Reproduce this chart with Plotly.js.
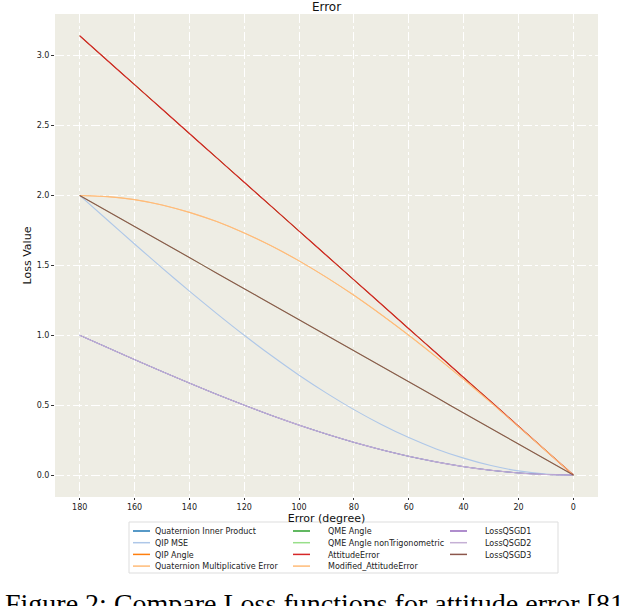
<!DOCTYPE html>
<html>
<head>
<meta charset="utf-8">
<script src="https://cdn.plot.ly/plotly-3.0.1.min.js"></script>
<style>html,body{margin:0;padding:0;background:#fff;}#chart{width:622px;height:606px;}</style>
</head>
<body>
<div id="chart"></div>
<script>
// Error angle in degrees
const errorDeg = [180,170,160,150,140,130,120,110,100,90,80,70,60,50,40,30,20,10,0];

// Series values
const quatInnerProduct = [1.000,0.913,0.826,0.741,0.658,0.577,0.500,0.426,0.357,0.293,0.234,0.181,0.134,0.094,0.060,0.034,0.015,0.004,0.000];
const qipMSE           = [2.000,1.826,1.653,1.482,1.316,1.155,1.000,0.853,0.714,0.586,0.468,0.362,0.268,0.187,0.121,0.068,0.030,0.008,0.000];
const qipAngle         = [3.142,2.967,2.793,2.618,2.443,2.269,2.094,1.920,1.745,1.571,1.396,1.222,1.047,0.873,0.698,0.524,0.349,0.175,0.000];
const quatMultError    = [2.000,1.992,1.970,1.932,1.879,1.813,1.732,1.638,1.532,1.414,1.286,1.147,1.000,0.845,0.684,0.518,0.347,0.174,0.000];
const qmeAngle         = [3.142,2.967,2.793,2.618,2.443,2.269,2.094,1.920,1.745,1.571,1.396,1.222,1.047,0.873,0.698,0.524,0.349,0.175,0.000];
const qmeAngleNonTrig  = [2.000,1.889,1.778,1.667,1.556,1.444,1.333,1.222,1.111,1.000,0.889,0.778,0.667,0.556,0.444,0.333,0.222,0.111,0.000];
const attitudeError    = [3.142,2.967,2.793,2.618,2.443,2.269,2.094,1.920,1.745,1.571,1.396,1.222,1.047,0.873,0.698,0.524,0.349,0.175,0.000];
const modAttitudeError = [2.000,1.992,1.970,1.932,1.879,1.813,1.732,1.638,1.532,1.414,1.286,1.147,1.000,0.845,0.684,0.518,0.347,0.174,0.000];
const lossQSGD1        = [1.000,0.913,0.826,0.741,0.658,0.577,0.500,0.426,0.357,0.293,0.234,0.181,0.134,0.094,0.060,0.034,0.015,0.004,0.000];
const lossQSGD2        = [1.000,0.913,0.826,0.741,0.658,0.577,0.500,0.426,0.357,0.293,0.234,0.181,0.134,0.094,0.060,0.034,0.015,0.004,0.000];
const lossQSGD3        = [2.000,1.889,1.778,1.667,1.556,1.444,1.333,1.222,1.111,1.000,0.889,0.778,0.667,0.556,0.444,0.333,0.222,0.111,0.000];

const seriesNames = ["Quaternion Inner Product","QIP MSE","QIP Angle","Quaternion Multiplicative Error",
  "QME Angle","QME Angle nonTrigonometric","AttitudeError","Modified_AttitudeError",
  "LossQSGD1","LossQSGD2","LossQSGD3"];
const seriesValues = [quatInnerProduct,qipMSE,qipAngle,quatMultError,qmeAngle,qmeAngleNonTrig,
  attitudeError,modAttitudeError,lossQSGD1,lossQSGD2,lossQSGD3];
const seriesColors = ["#1f77b4","#aec7e8","#ff7f0e","#ffbb78","#2ca02c","#98df8a","#d62728","#ffbb78","#9467bd","#c5b0d5","#8c564b"];
const legendGroups = ["legend","legend","legend","legend","legend2","legend2","legend2","legend2","legend3","legend3","legend3"];
const lineWidths = [0.8,1.1,0.8,0.8,0.8,0.8,1.2,1.1,0.8,1.1,1.1];

const traces = seriesNames.map((n,i)=>({
  type:"scatter", mode:"lines", name:n, x:errorDeg, y:seriesValues[i],
  line:{color:seriesColors[i], width:lineWidths[i], shape:"spline", smoothing:0.6},
  legend:legendGroups[i], legendrank:i+1
}));

const tickFont = {family:"DejaVu Sans", size:8, color:"#222"};
const legendCommon = {orientation:"v", bgcolor:"rgba(0,0,0,0)", borderwidth:0,
  font:{family:"DejaVu Sans", size:8, color:"#222"}, yanchor:"top", xanchor:"left",
  itemwidth:30, tracegroupgap:0, y:0.95};

const layout = {
  width:622, height:606,
  margin:{l:55, r:24, t:14, b:109},
  paper_bgcolor:"#ffffff", plot_bgcolor:"#eeede4",
  title:{text:"Error", font:{family:"DejaVu Sans", size:12, color:"#111"}, x:0.5, xref:"paper", y:0.995, yanchor:"top"},
  xaxis:{range:[189,-9], tickvals:[180,160,140,120,100,80,60,40,20,0], ticktext:["180","160","140","120","100","80","60","40","20","0"],
    showgrid:true, gridcolor:"#ffffff", griddash:"dashdot", gridwidth:1, zeroline:false,
    ticks:"outside", ticklen:2, tickcolor:"#333", tickfont:tickFont, showline:false,
    title:{text:"Error (degree)", font:{family:"DejaVu Sans", size:11, color:"#111"}, standoff:0}},
  yaxis:{range:[-0.157,3.298], tickvals:[0,0.5,1,1.5,2,2.5,3], ticktext:["0.0","0.5","1.0","1.5","2.0","2.5","3.0"],
    showgrid:true, gridcolor:"#ffffff", griddash:"dashdot", gridwidth:1, zeroline:false,
    ticks:"outside", ticklen:3, tickcolor:"#333", tickfont:tickFont, showline:false,
    title:{text:"Loss Value", font:{family:"DejaVu Sans", size:11, color:"#111"}, standoff:2}},
  legend:Object.assign({}, legendCommon, {x:0.1}),
  legend2:Object.assign({}, legendCommon, {x:0.4}),
  legend3:Object.assign({}, legendCommon, {x:0.7}),
  shapes:[{type:"rect", xref:"paper", yref:"paper", x0:(129-55)/543, x1:(558-55)/543, y0:(497-573)/483, y1:(497-522)/483,
    line:{color:"#dddddd", width:1}, fillcolor:"rgba(0,0,0,0)", layer:"below"}],
  annotations:[{text:"Figure 2: Compare Loss functions for attitude error [81]", xref:"paper", yref:"paper",
    x:(3-55)/543, y:(497-586)/483, xanchor:"left", yanchor:"top", showarrow:false,
    font:{family:"Liberation Serif", size:28, color:"#000"}}]
};

// legend column placement (pixels): left edge of line sample, and rows
const legendCols = {legend:133, legend2:293, legend3:450};
const legendTop = 521, legendRowGap = 11.7, legendFirstRow = 10;

Plotly.newPlot("chart", traces, layout, {displayModeBar:false, staticPlot:true}).then(gd=>{
  Object.keys(legendCols).forEach(id=>{
    const root = gd.querySelector("g.infolayer g." + id);
    if(!root) return;
    root.setAttribute("transform", "translate(" + (legendCols[id]-5) + "," + legendTop + ")");
    root.querySelectorAll("[clip-path]").forEach(e=>e.removeAttribute("clip-path"));
    const sb = root.querySelector("g.scrollbox");
    if(sb) sb.setAttribute("transform","translate(0,0)");
    root.querySelectorAll("g.traces").forEach((g,k)=>{
      g.setAttribute("transform","translate(0," + (legendFirstRow + k*legendRowGap) + ")");
      g.querySelectorAll("path.js-line").forEach(p=>{ p.setAttribute("d","M5,0h17"); p.style.strokeWidth = "1.5px"; });
      g.querySelectorAll("text.legendtext").forEach(t=>{
        t.setAttribute("x","27");
        t.querySelectorAll("tspan").forEach(ts=>{ if(ts.hasAttribute("x")) ts.setAttribute("x","27"); });
      });
      const r = g.querySelector("rect.legendtoggle"); if(r) r.remove();
    });
  });
});
</script>
</body>
</html>
